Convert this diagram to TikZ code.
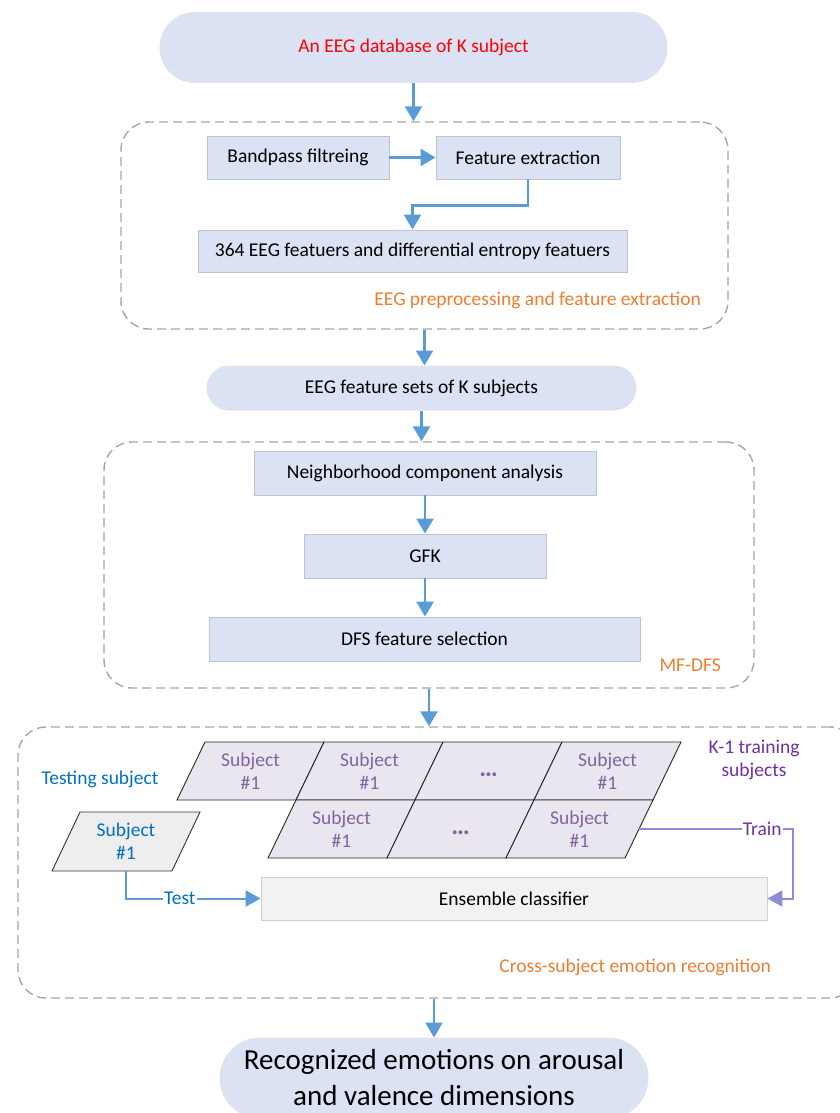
\documentclass[tikz,border=0pt]{standalone}
\usepackage{fontspec}
\setmainfont{Carlito}
\usetikzlibrary{arrows.meta,calc}
\definecolor{pillfill}{RGB}{218,226,243}
\definecolor{pillline}{RGB}{226,228,232}
\definecolor{boxfill}{RGB}{218,226,243}
\definecolor{boxline}{RGB}{190,196,206}
\definecolor{arrblue}{RGB}{91,155,213}
\definecolor{dashgray}{RGB}{166,166,166}
\definecolor{orange1}{RGB}{237,125,49}
\definecolor{cellfill}{RGB}{233,230,240}
\definecolor{celltxt}{RGB}{128,100,162}
\definecolor{testfill}{RGB}{238,238,238}
\definecolor{testblue}{RGB}{0,112,192}
\definecolor{testline}{RGB}{91,155,213}
\definecolor{trainline}{RGB}{142,140,216}
\definecolor{purple1}{RGB}{112,48,160}
\definecolor{ensfill}{RGB}{242,242,242}
\definecolor{ensline}{RGB}{208,208,208}
\newcommand{\mainsz}{\fontsize{19.5}{23}\selectfont}
\newcommand{\bigsz}{\fontsize{29}{36}\selectfont}
\begin{document}
\begin{tikzpicture}[x=1pt,y=-1pt,
  pill/.style={draw=pillline, fill=pillfill, line width=1pt, inner sep=0pt, font=\mainsz},
  box/.style={draw=boxline, fill=boxfill, line width=0.9pt, inner sep=0pt, font=\mainsz},
  container/.style={draw=dashgray, dash pattern=on 9pt off 5pt, line width=1.4pt, rounded corners=28pt, inner sep=0pt},
  arr/.style={draw=arrblue, line width=2.5pt, -{Triangle[length=15pt,width=17pt]}},
  lbl/.style={inner sep=0pt, font=\mainsz},
  cell/.style={draw=black!85, fill=cellfill, line width=0.9pt, line join=miter},
  celltext/.style={inner sep=0pt, font=\mainsz, text=celltxt, align=center},
  dots/.style={inner sep=0pt, font=\fontsize{26}{26}\selectfont\bfseries, text=celltxt},
  testline/.style={draw=testline, line width=2pt, -{Triangle[length=15pt,width=16pt]}},
  trainline/.style={draw=trainline, line width=2pt, -{Triangle[length=15pt,width=16pt]}}
]
\useasboundingbox (0,0) rectangle (840,1113);

% top pill
\node[pill, rounded corners=35pt, minimum width=507pt, minimum height=70pt, text=red] (p1) at (413.5,47.5) {An EEG database of K subject};

% block 1
\node[container, minimum width=607pt, minimum height=207pt] (b1) at (424.5,225.5) {};
\node[box, minimum width=182pt, minimum height=43pt] (bp) at (298,157.5) {Bandpass filtreing};
\node[box, minimum width=184pt, minimum height=43pt] (fe) at (528,157.5) {Feature extraction};
\node[box, minimum width=429pt, minimum height=42pt] (f364) at (412.5,251) {364 EEG featuers and differential entropy featuers};
\node[lbl, text=orange1, anchor=east] (l1) at (701,300) {EEG preprocessing and feature extraction};

\draw[arr] (p1.south) -- (p1.south |- b1.north);
\draw[arr] (bp.east) -- (fe.west);
\draw[arr] (fe.south) -- ++(0,26) -| (f364.north);

% pill 2
\node[pill, rounded corners=22pt, minimum width=429pt, minimum height=44pt] (p2) at (421.5,388) {EEG feature sets of K subjects};
\draw[arr] (b1.south) -- (b1.south |- p2.north);

% block 2
\node[container, minimum width=650pt, minimum height=246pt] (b2) at (429,565) {};
\node[box, minimum width=342pt, minimum height=44pt] (nca) at (425,473) {Neighborhood component analysis};
\node[box, minimum width=242pt, minimum height=44pt] (gfk) at (425,556) {GFK};
\node[box, minimum width=431pt, minimum height=44pt] (dfs) at (424.5,639) {DFS feature selection};
\node[lbl, text=orange1, anchor=east] (l2) at (721,665) {MF-DFS};

\draw[arr] (p2.south) -- (p2.south |- b2.north);
\draw[arr] (nca.south) -- (nca.south |- gfk.north);
\draw[arr] (gfk.south) -- (gfk.south |- dfs.north);

% block 3
\node[container, minimum width=840pt, minimum height=271pt] (b3) at (438,862.5) {};
\draw[arr] (b2.south) -- (b2.south |- b3.north);

\foreach \k in {0,...,3}
  \draw[cell] ({177+119*\k},800) -- ({296+119*\k},800) -- ({324+119*\k},742) -- ({205+119*\k},742) -- cycle;
\foreach \k in {0,1,2}
  \draw[cell] ({268+119*\k},858) -- ({387+119*\k},858) -- ({415+119*\k},800) -- ({296+119*\k},800) -- cycle;

\node[celltext] (r1a) at (250.5,771) {Subject\\\#1};
\node[celltext] (r1b) at (369.5,771) {Subject\\\#1};
\node[dots] (r1c) at (488.5,775) {…};
\node[celltext] (r1d) at (607.5,771) {Subject\\\#1};
\node[celltext] (r2a) at (341.5,829) {Subject\\\#1};
\node[dots] (r2b) at (460.5,833) {…};
\node[celltext] (r2c) at (579.5,829) {Subject\\\#1};

\draw[draw=black!80, fill=testfill, line width=0.9pt] (52,871) -- (172,871) -- (200,812) -- (80,812) -- cycle;
\node[celltext, text=testblue] (ts) at (126,841.5) {Subject\\\#1};

\node[lbl, text=testblue] (tlab) at (100,779) {Testing subject};
\node[lbl, text=purple1, align=center] (klab) at (754,759.5) {K-1 training\\subjects};

\node[draw=ensline, fill=ensfill, line width=0.9pt, minimum width=506pt, minimum height=43pt, inner sep=0pt, font=\mainsz] (ens) at (514,898.5) {Ensemble classifier};

\coordinate (tsb) at (126,871);
\coordinate (trs) at (639,829);
\draw[testline] (tsb) |- node[pos=0.70, fill=white, inner sep=1pt, font=\mainsz, text=testblue] {Test} (ens.west);
\draw[trainline] (trs) -- node[pos=0.8, fill=white, inner sep=1pt, font=\mainsz, text=purple1] {Train} ++(154,0) |- (ens.east);

\node[lbl, text=orange1, anchor=east] (l3) at (771,967) {Cross-subject emotion recognition};

% final pill
\node[pill, rounded corners=40pt, minimum width=428pt, minimum height=80pt, font=\bigsz, align=center] (p3) at (434,1078) {Recognized emotions on arousal\\and valence dimensions};
\draw[arr] (p3.north |- b3.south) -- (p3.north);
\end{tikzpicture}
\end{document}
